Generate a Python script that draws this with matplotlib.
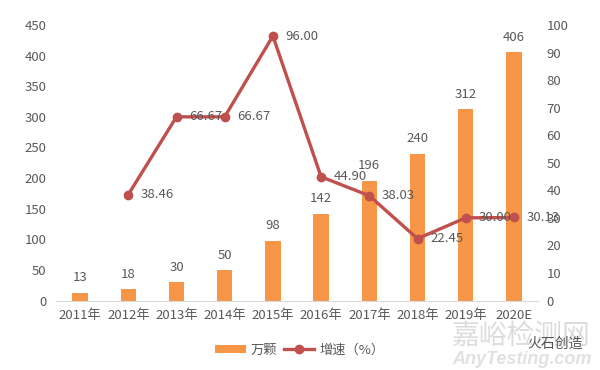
import matplotlib
matplotlib.use("Agg")
import matplotlib.pyplot as plt

plt.rcParams['font.family'] = ['Noto Sans CJK SC', 'DejaVu Sans']

years = ['2011年', '2012年', '2013年', '2014年', '2015年', '2016年', '2017年', '2018年', '2019年', '2020E']
volume = [13, 18, 30, 50, 98, 142, 196, 240, 312, 406]
growth = [None, 38.46, 66.67, 66.67, 96.00, 44.90, 38.03, 22.45, 30.00, 30.13]
left_ticks = [0, 50, 100, 150, 200, 250, 300, 350, 400, 450]
right_ticks = [0, 10, 20, 30, 40, 50, 60, 70, 80, 90, 100]

TXT = '#595959'
BAR = '#F79646'
LINE = '#C0504D'
W, H = 600, 370

fig = plt.figure(figsize=(6, 3.7), dpi=100)
ax = fig.add_axes([56 / W, 1 - 300.5 / H, (538 - 56) / W, 275.5 / H])
ax2 = ax.twinx()
x = list(range(len(years)))

bars = ax.bar(x, volume, width=0.32, color=BAR, label='万颗', zorder=2)
ax.set_xlim(-0.5, 9.5)
ax.set_ylim(0, 450)
ax.set_yticks(left_ticks)
ax.set_xticks(x, years)
ax.tick_params(axis='both', length=0, labelsize=9.5, labelcolor=TXT)
ax.tick_params(axis='x', pad=6)
ax.tick_params(axis='y', pad=7)
for s in ['top', 'left', 'right']:
    ax.spines[s].set_visible(False)
    ax2.spines[s].set_visible(False)
ax.spines['bottom'].set_color('#D9D9D9')
ax2.spines['bottom'].set_visible(False)

for xi, v in zip(x, volume):
    ax.annotate(str(v), (xi, v), xytext=(0, 6), textcoords='offset points',
                ha='center', va='bottom', fontsize=9.5, color=TXT, zorder=5)

gx = [xi for xi, g in zip(x, growth) if g is not None]
gy = [g for g in growth if g is not None]
ax2.plot(gx, gy, color=LINE, lw=2.4, marker='o', ms=6, label='增速（%）', zorder=4)
ax2.set_ylim(0, 100)
ax2.set_yticks(right_ticks)
ax2.tick_params(axis='y', length=0, labelsize=9.5, labelcolor=TXT, pad=6)
for xi, g in zip(gx, gy):
    ax2.annotate(f'{g:.2f}', (xi, g), xytext=(9, 0), textcoords='offset points',
                 ha='left', va='center', fontsize=9.5, color=TXT, zorder=5)

h1, l1 = ax.get_legend_handles_labels()
h2, l2 = ax2.get_legend_handles_labels()
fig.legend(h1 + h2, l1 + l2, loc='center', bbox_to_anchor=(300 / W, 1 - 350 / H), ncol=2,
           frameon=False, fontsize=9.5, labelcolor=TXT, handlelength=2.3, handleheight=0.6,
           columnspacing=0.5, handletextpad=0.4)

# Watermark
fig.text(452 / W, 1 - 336 / H, '嘉峪检测网', fontsize=20, color='#D4D4D4', ha='left', va='center', alpha=0.8)
fig.text(452 / W, 1 - 360 / H, 'AnyTesting.com', fontsize=13, color='#DADADA', ha='left', va='center',
         family='Liberation Sans', style='italic', weight='bold', alpha=0.8)
fig.text(527 / W, 1 - 344 / H, '火石创造', fontsize=10, color='#555555', ha='left', va='center', zorder=10)

fig.savefig('out.png', dpi=100)
